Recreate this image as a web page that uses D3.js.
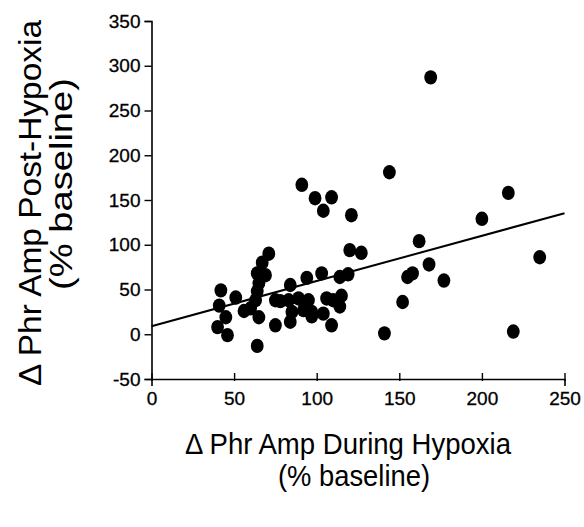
<!DOCTYPE html>
<html>
<head>
<meta charset="utf-8">
<script src="https://cdn.jsdelivr.net/npm/d3@7"></script>
<style>
  body { margin: 0; background: #fff; }
  text { font-family: "Liberation Sans", Arial, sans-serif; fill: #000; }
</style>
</head>
<body>
<div id="chart"></div>
<script>
// values (% baseline)
var duringHypoxia = [42, 51, 41, 45, 40, 46, 64, 56, 60, 63, 64, 65, 64, 67, 71, 69, 65,
  75, 78, 75, 83, 84, 84, 85, 89, 92, 94, 95, 97, 97, 103, 106, 110, 115, 114, 104, 109,
  114, 119, 120, 127, 91, 99, 109, 104, 121, 144, 169, 216, 200, 162, 235, 168, 158, 155,
  177, 152, 141, 219];
var postHypoxia = [49, 41, 32, 19, 8, -1, -13, 26, 29, 38, 48, 57, 68, 80, 90, 66, 19,
  38, 37, 10, 38, 55, 14, 25, 40, 27, 63, 38, 25, 20, 68, 40, 38, 43, 31, 23, 10,
  64, 67, 94, 91, 167, 152, 153, 138, 133, 181, 287, 158, 129, 104, 86, 78, 68, 64,
  60, 36, 1, 3];
var fitIntercept = 9;
var fitSlope = 0.505;
var xTicks = [0, 50, 100, 150, 200, 250];
var yTicks = [-50, 0, 50, 100, 150, 200, 250, 300, 350];

const width = 584, height = 527;

const svg = d3.select('#chart')
  .append('svg')
  .attr('width', width)
  .attr('height', height);

const x = d3.scaleLinear().domain([0, 250]).range([151.5, 564.5]);
const y = d3.scaleLinear().domain([-50, 350]).range([379, 21]);

// axes (plain hyphen for negatives, like the original)
const xAxis = svg.append('g')
  .attr('transform', 'translate(0,' + y(-50) + ')')
  .call(d3.axisBottom(x).tickValues(xTicks).tickFormat(d => String(d)).tickSize(7).tickPadding(6));
const yAxis = svg.append('g')
  .attr('transform', 'translate(' + x(0) + ',0)')
  .call(d3.axisLeft(y).tickValues(yTicks).tickFormat(d => String(d)).tickSize(7).tickPadding(4));

[xAxis, yAxis].forEach(g => {
  g.select('.domain').attr('stroke', '#000').attr('stroke-width', 1.6);
  g.selectAll('.tick line').attr('stroke', '#000').attr('stroke-width', 1.4);
  g.selectAll('.tick text')
    .attr('font-size', 19)
    .attr('font-family', '"Liberation Sans Narrow", "Liberation Sans", Arial, sans-serif')
    .attr('fill', '#000')
    .attr('stroke', '#000').attr('stroke-width', 0.3);
});
xAxis.selectAll('.tick line').attr('y1', -6).attr('y2', 2);

// regression line
svg.append('line')
  .attr('x1', x(0)).attr('y1', y(fitIntercept))
  .attr('x2', x(250)).attr('y2', y(fitIntercept + fitSlope * 250))
  .attr('stroke', '#000').attr('stroke-width', 2);

// points
svg.append('g')
  .selectAll('ellipse')
  .data(duringHypoxia.map((d, i) => [d, postHypoxia[i]]))
  .enter()
  .append('ellipse')
  .attr('cx', d => x(d[0]))
  .attr('cy', d => y(d[1]))
  .attr('rx', 6.4)
  .attr('ry', 7.2)
  .attr('fill', '#000');

// axis titles
svg.append('text')
  .attr('x', 348).attr('y', 454)
  .attr('text-anchor', 'middle')
  .attr('font-size', 29)
  .attr('textLength', 326).attr('lengthAdjust', 'spacingAndGlyphs')
  .text('\u0394 Phr Amp During Hypoxia');
svg.append('text')
  .attr('x', 354).attr('y', 486)
  .attr('text-anchor', 'middle')
  .attr('font-size', 29)
  .attr('textLength', 152).attr('lengthAdjust', 'spacingAndGlyphs')
  .text('(% baseline)');

svg.append('text')
  .attr('transform', 'translate(41,203) rotate(-90)')
  .attr('text-anchor', 'middle')
  .attr('font-size', 31)
  .attr('textLength', 366).attr('lengthAdjust', 'spacingAndGlyphs')
  .text('\u0394 Phr Amp Post-Hypoxia');
svg.append('text')
  .attr('transform', 'translate(72,184) rotate(-90)')
  .attr('text-anchor', 'middle')
  .attr('font-size', 31)
  .attr('textLength', 212).attr('lengthAdjust', 'spacingAndGlyphs')
  .text('(% baseline)');
</script>
</body>
</html>
